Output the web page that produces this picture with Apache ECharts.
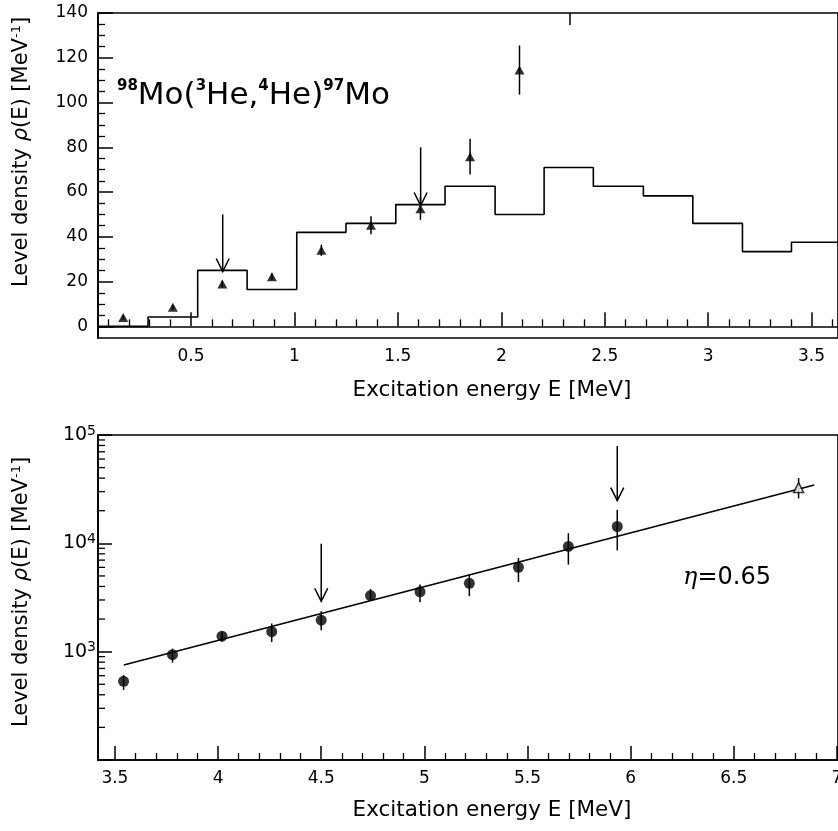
<!DOCTYPE html>
<html><head><meta charset="utf-8">
<script src="https://cdn.jsdelivr.net/npm/echarts@6/dist/echarts.min.js"></script>
<style>html,body{margin:0;padding:0;background:#fff}#c{width:838px;height:831px}</style>
</head><body><div id="c"></div>
<script>
// ---------- top panel data ----------
const topBinEdges = [0.053, 0.292, 0.532, 0.771, 1.011, 1.249, 1.490, 1.728, 1.970, 2.207, 2.445, 2.687, 2.926, 3.166, 3.403, 3.642];
const topHist = [0, 4.2, 25, 16.5, 42, 46, 54.4, 62.6, 50, 71, 62.6, 58.3, 46, 33.4, 37.6];
const topPtsX = [0.172, 0.412, 0.651, 0.891, 1.130, 1.370, 1.609, 1.849, 2.088];
const topPtsY = [4, 8.5, 18.9, 22.2, 34, 45.2, 52.6, 75.8, 114.5];
const topPtsErr = [1, 1, 1.5, 1.5, 2.5, 4, 5, 8, 11];
const topArrowX = [0.653, 1.610];
const topArrowFrom = [50, 80];
const topArrowTo = [24.5, 54];
const topXTicks = [0.5, 1, 1.5, 2, 2.5, 3, 3.5];
const topXMinor = [0.1,0.2,0.3,0.4,0.6,0.7,0.8,0.9,1.1,1.2,1.3,1.4,1.6,1.7,1.8,1.9,2.1,2.2,2.3,2.4,2.6,2.7,2.8,2.9,3.1,3.2,3.3,3.4,3.6];
const topYTicks = [0, 20, 40, 60, 80, 100, 120, 140];
const topYMinor = [5,10,15,25,30,35,45,50,55,65,70,75,85,90,95,105,110,115,125,130,135];
const topFrameTick = [2.33];
const topXMin = 0.05, topXMax = 3.628, topYMin = -5.2, topYMax = 140;

// ---------- bottom panel data ----------
const botPtsX = [3.542, 3.779, 4.019, 4.260, 4.500, 4.739, 4.979, 5.218, 5.456, 5.698, 5.935];
const botPtsY = [533, 938, 1391, 1528, 1953, 3296, 3565, 4276, 6000, 9360, 14300];
const botPtsLo = [443, 792, 1240, 1225, 1580, 2950, 2860, 3250, 4400, 6360, 8600];
const botPtsHi = [606, 1066, 1530, 1820, 2362, 3800, 4160, 5140, 7330, 12400, 20400];
const extraX = [6.814], extraY = [32700], extraLo = [26000], extraHi = [40000];
const fitX = [3.543, 6.890];
const fitY = [753, 34600];
const botArrowX = [4.500, 5.935];
const botArrowFrom = [9900, 79400];
const botArrowTo = [2920, 24800];
const botXTicks = [3.5, 4, 4.5, 5, 5.5, 6, 6.5, 7];
const botXMinor = [3.6,3.7,3.8,3.9,4.1,4.2,4.3,4.4,4.6,4.7,4.8,4.9,5.1,5.2,5.3,5.4,5.6,5.7,5.8,5.9,6.1,6.2,6.3,6.4,6.6,6.7,6.8,6.9];
const botYMinor = [200,300,400,500,600,700,800,900,2000,3000,4000,5000,6000,7000,8000,9000,20000,30000,40000,50000,60000,70000,80000,90000];
const botXMin = 3.418, botXMax = 7.005, botYMin = 100, botYMax = 100000;

const FONT = 'DejaVu Sans';
const LW = 1.7;

function errRender(params, api) {
  const a = api.coord([api.value(0), api.value(1)]);
  const b = api.coord([api.value(0), api.value(2)]);
  return {type: 'line', shape: {x1: a[0], y1: a[1], x2: b[0], y2: b[1]}, style: {stroke: '#000', lineWidth: 1.5}};
}
function arrowRender(params, api) {
  const a = api.coord([api.value(0), api.value(1)]);
  const b = api.coord([api.value(0), api.value(2)]);
  return {type: 'group', children: [
    {type: 'line', shape: {x1: a[0], y1: a[1], x2: b[0], y2: b[1]}, style: {stroke: '#000', lineWidth: 1.5}},
    {type: 'polyline', shape: {points: [[b[0] - 6.5, b[1] - 13], [b[0], b[1]], [b[0] + 6.5, b[1] - 13]]}, style: {stroke: '#000', lineWidth: 1.5, fill: null}}
  ]};
}
function minorYRender(params, api) {
  const p = api.coord([api.value(0), api.value(1)]);
  return {type: 'line', shape: {x1: p[0], y1: p[1], x2: p[0] + 7, y2: p[1]}, style: {stroke: '#000', lineWidth: 1.3}};
}

const histData = topBinEdges.map((e, i) => [e, i < topHist.length ? topHist[i] : topHist[topHist.length - 1]]);
const topPts = topPtsX.map((x, i) => [x, topPtsY[i]]);
const topErr = topPtsX.map((x, i) => [x, topPtsY[i] - topPtsErr[i], topPtsY[i] + topPtsErr[i]]);
const topArrows = topArrowX.map((x, i) => [x, topArrowFrom[i], topArrowTo[i]]);
const botPts = botPtsX.map((x, i) => [x, botPtsY[i]]);
const botErr = botPtsX.map((x, i) => [x, botPtsLo[i], botPtsHi[i]]);
const extraPts = extraX.map((x, i) => [x, extraY[i]]);
const extraErr = extraX.map((x, i) => [x, extraLo[i], extraHi[i]]);
const fitData = fitX.map((x, i) => [x, fitY[i]]);
const botArrows = botArrowX.map((x, i) => [x, botArrowFrom[i], botArrowTo[i]]);
const minorLogData = botYMinor.map(v => [botXMin, v]);

const labelStyle = {color: '#000', fontFamily: FONT, fontSize: 17};
const axisLine = {show: true, lineStyle: {color: '#000', width: LW}};

const chart = echarts.init(document.getElementById('c'), null, {renderer: 'canvas'});
chart.setOption({
  backgroundColor: '#fff',
  animation: false,
  grid: [
    {left: 98, top: 13, width: 740, height: 325, show: true, borderColor: '#000', borderWidth: LW, containLabel: false, outerBoundsMode: 'none'},
    {left: 98, top: 435, width: 740, height: 325, show: true, borderColor: '#000', borderWidth: LW, containLabel: false, outerBoundsMode: 'none'}
  ],
  xAxis: [
    {gridIndex: 0, type: 'value', position: 'bottom', min: topXMin, max: topXMax, axisLine: axisLine,
     axisTick: {show: true, inside: true, length: 14, customValues: topXTicks, lineStyle: {color: '#000', width: 1.5}},
     axisLabel: Object.assign({customValues: topXTicks, margin: 10}, labelStyle), splitLine: {show: false}},
    {gridIndex: 0, type: 'value', position: 'bottom', offset: 0, min: topXMin, max: topXMax, axisLine: {show: false},
     axisTick: {show: true, inside: true, length: 7, customValues: topXMinor, lineStyle: {color: '#000', width: 1.3}},
     axisLabel: {show: false}, splitLine: {show: false}},
    {gridIndex: 1, type: 'value', position: 'bottom', min: botXMin, max: botXMax, axisLine: axisLine,
     axisTick: {show: true, inside: true, length: 14, customValues: botXTicks, lineStyle: {color: '#000', width: 1.5}},
     axisLabel: Object.assign({customValues: botXTicks, margin: 10}, labelStyle), splitLine: {show: false}},
    {gridIndex: 1, type: 'value', position: 'bottom', offset: 0, min: botXMin, max: botXMax, axisLine: {show: false},
     axisTick: {show: true, inside: true, length: 7, customValues: botXMinor, lineStyle: {color: '#000', width: 1.3}},
     axisLabel: {show: false}, splitLine: {show: false}},
    {gridIndex: 0, type: 'value', position: 'top', offset: 0, min: topXMin, max: topXMax, axisLine: {show: false},
     axisTick: {show: true, inside: true, length: 12, customValues: topFrameTick, lineStyle: {color: '#000', width: 1.5}},
     axisLabel: {show: false}, splitLine: {show: false}}
  ],
  yAxis: [
    {gridIndex: 0, type: 'value', position: 'left', min: topYMin, max: topYMax, axisLine: axisLine,
     axisTick: {show: true, inside: true, length: 15, customValues: topYTicks, lineStyle: {color: '#000', width: 1.5}},
     axisLabel: Object.assign({customValues: topYTicks, margin: 10}, labelStyle), splitLine: {show: false}},
    {gridIndex: 0, type: 'value', position: 'left', offset: 0, min: topYMin, max: topYMax, axisLine: {show: false},
     axisTick: {show: true, inside: true, length: 7, customValues: topYMinor, lineStyle: {color: '#000', width: 1.3}},
     axisLabel: {show: false}, splitLine: {show: false}},
    {gridIndex: 1, type: 'log', position: 'left', logBase: 10, min: botYMin, max: botYMax, axisLine: axisLine,
     axisTick: {show: true, inside: true, length: 14, lineStyle: {color: '#000', width: 1.5}},
     axisLabel: {margin: 2, color: '#000', fontFamily: FONT, fontSize: 19,
       formatter: function (v) { const e = Math.round(Math.log10(v)); return e < 3 ? '' : '10{sup|' + e + '}'; },
       rich: {sup: {fontFamily: FONT, fontSize: 14, verticalAlign: 'top', lineHeight: 22, color: '#000'}}},
     splitLine: {show: false}, minorTick: {show: false}}
  ],
  series: [
    {type: 'line', xAxisIndex: 0, yAxisIndex: 0, data: histData, step: 'end', symbol: 'none',
     lineStyle: {color: '#000', width: 1.6}, z: 3},
    {type: 'custom', xAxisIndex: 0, yAxisIndex: 0, data: topErr, renderItem: errRender, z: 4},
    {type: 'scatter', xAxisIndex: 0, yAxisIndex: 0, data: topPts, symbol: 'triangle', symbolSize: [10, 9],
     itemStyle: {color: '#000'}, z: 5},
    {type: 'custom', xAxisIndex: 0, yAxisIndex: 0, data: topArrows, renderItem: arrowRender, z: 6},

    {type: 'line', xAxisIndex: 2, yAxisIndex: 2, data: fitData, symbol: 'none', lineStyle: {color: '#000', width: 1.6}, z: 3},
    {type: 'custom', xAxisIndex: 2, yAxisIndex: 2, data: botErr, renderItem: errRender, z: 4},
    {type: 'custom', xAxisIndex: 2, yAxisIndex: 2, data: extraErr, renderItem: errRender, z: 4},
    {type: 'scatter', xAxisIndex: 2, yAxisIndex: 2, data: botPts, symbol: 'circle', symbolSize: 11,
     itemStyle: {color: '#000'}, z: 5},
    {type: 'scatter', xAxisIndex: 2, yAxisIndex: 2, data: extraPts, symbol: 'triangle', symbolSize: [10, 10],
     itemStyle: {color: '#fff', borderColor: '#000', borderWidth: 1.5}, z: 5},
    {type: 'custom', xAxisIndex: 2, yAxisIndex: 2, data: botArrows, renderItem: arrowRender, z: 6},
    {type: 'custom', xAxisIndex: 2, yAxisIndex: 2, data: minorLogData, renderItem: minorYRender, z: 6, clip: false}
  ],
  graphic: [
    {type: 'text', x: 117, y: 96, z: 20, style: {
      text: '{s|98}Mo({s|3}He,{s|4}He){s|97}Mo', fill: '#000', font: '31px "DejaVu Sans"',
      verticalAlign: 'middle', align: 'left',
      rich: {s: {fontSize: 15, fontWeight: 'bold', fontFamily: FONT, verticalAlign: 'top', lineHeight: 34, fill: '#000'}}
    }},
    {type: 'text', x: 683, y: 578, z: 20, style: {
      text: '{e|η}=0.65', fill: '#000', font: '24px "DejaVu Sans"', verticalAlign: 'middle', align: 'left',
      rich: {e: {fontSize: 24, fontStyle: 'italic', fontFamily: 'DejaVu Serif', fill: '#000'}}
    }},
    {type: 'text', x: 492, y: 390, z: 20, style: {text: 'Excitation energy E [MeV]', fill: '#000', font: '21.5px "DejaVu Sans"', align: 'center', verticalAlign: 'middle'}},
    {type: 'text', x: 492, y: 810, z: 20, style: {text: 'Excitation energy E [MeV]', fill: '#000', font: '21.5px "DejaVu Sans"', align: 'center', verticalAlign: 'middle'}},
    {type: 'text', x: 22, y: 152, rotation: Math.PI / 2, z: 20, style: {
      text: 'Level density {i|ρ}(E) [MeV{s|-1}]', fill: '#000', font: '21px "DejaVu Sans"', align: 'center', verticalAlign: 'middle',
      rich: {i: {fontStyle: 'italic', fontSize: 21, fontFamily: FONT, fill: '#000'}, s: {fontSize: 13, fontFamily: FONT, verticalAlign: 'top', lineHeight: 23, fill: '#000'}}
    }},
    {type: 'text', x: 22, y: 592, rotation: Math.PI / 2, z: 20, style: {
      text: 'Level density {i|ρ}(E) [MeV{s|-1}]', fill: '#000', font: '21px "DejaVu Sans"', align: 'center', verticalAlign: 'middle',
      rich: {i: {fontStyle: 'italic', fontSize: 21, fontFamily: FONT, fill: '#000'}, s: {fontSize: 13, fontFamily: FONT, verticalAlign: 'top', lineHeight: 23, fill: '#000'}}
    }}
  ]
});
</script>
</body></html>
